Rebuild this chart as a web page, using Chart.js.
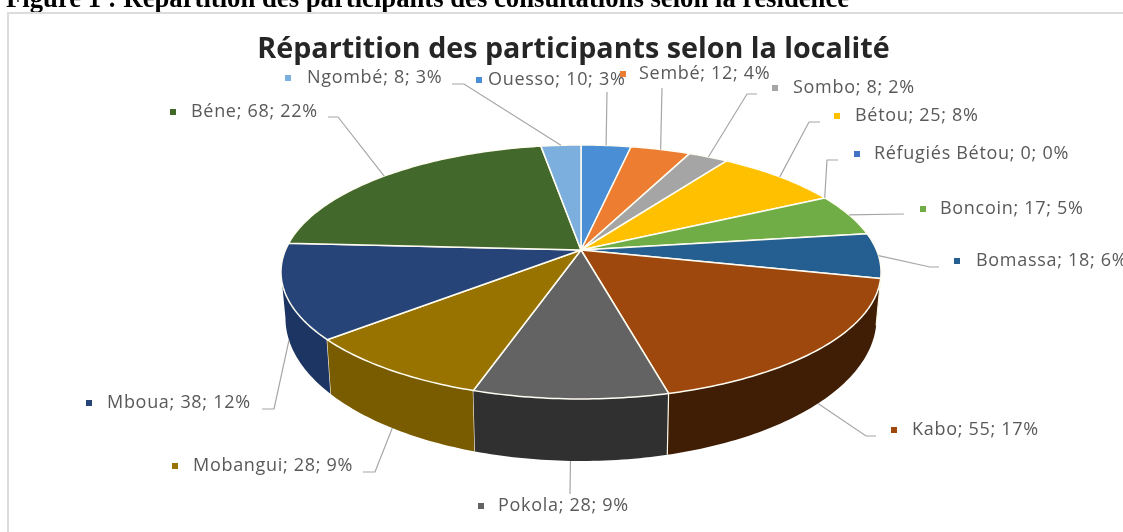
<!DOCTYPE html>
<html lang="fr">
<head>
<meta charset="utf-8">
<title>Répartition des participants</title>
<script src="https://cdn.jsdelivr.net/npm/chart.js@4"></script>
<style>
    html, body { margin: 0; padding: 0; background: #fff; overflow: hidden; }
    #page { position: relative; width: 1123px; height: 532px; overflow: hidden; }
    #caption {
        position: absolute; left: 6px; top: -17px; white-space: nowrap;
        font: bold 26.7px "Liberation Serif", serif; color: #000; filter: blur(0.4px);
    }
    #frame {
        position: absolute; left: 7px; top: 12px; width: 1116px; height: 520px;
        border-left: 2px solid #dcdcdc; border-top: 2px solid #dcdcdc; box-sizing: border-box;
    }
    canvas { position: absolute; left: 0; top: 0; filter: blur(0.6px); }
</style>
</head>
<body>
<div id="page">
    <div id="caption">Figure 1 : Répartition des participants des consultations selon la résidence</div>
    <div id="frame"></div>
    <canvas id="pie" width="1123" height="532"></canvas>
</div>
<script>
// Données
const localites = ["Ouesso", "Sembé", "Sombo", "Bétou", "Réfugiés Bétou", "Boncoin", "Bomassa", "Kabo", "Pokola", "Mobangui", "Mboua", "Béne", "Ngombé"];
const participants = [10, 12, 8, 25, 0, 17, 18, 55, 28, 28, 38, 68, 8];
const pourcentages = [3, 4, 2, 8, 0, 5, 6, 17, 9, 9, 12, 22, 3];

const couleurs = ["#4a8fd6", "#ed7d31", "#a5a5a5", "#ffc000", "#4472c4", "#70ad47", "#255e91", "#9e480e", "#636363", "#997300", "#264478", "#43682b", "#7cafdd"];
const couleursCote = ["#3a70a8", "#b05c24", "#7a7a7a", "#bd8e00", "#32548f", "#527f34", "#1b456b", "#3f1e05", "#303030", "#795b00", "#1d3563", "#31491f", "#5c82a4"];

// Emplacement des étiquettes : carré, texte, y, puis coude du trait de rappel
const etiquettes = [
    { m: 479, t: 488, y: 80, coude: [[607, 92]] },
    { m: 623, t: 639, y: 74, coude: [[662, 88]] },
    { m: 775, t: 793, y: 88, coude: [[757, 94], [747, 94]] },
    { m: 837, t: 855, y: 116, coude: [[820, 122], [809, 122]] },
    { m: 857, t: 874, y: 154, coude: [[838, 160], [827, 160]] },
    { m: 923, t: 940, y: 209, coude: [[904, 214]] },
    { m: 957, t: 976, y: 261, coude: [[939, 267], [930, 267]] },
    { m: 894, t: 912, y: 430, coude: [[876, 436], [866, 436]] },
    { m: 481, t: 498, y: 506, coude: [[570, 494]] },
    { m: 175, t: 193, y: 466, coude: [[363, 472], [375, 472]] },
    { m: 89, t: 107, y: 403, coude: [[262, 409], [274, 409]] },
    { m: 173, t: 191, y: 112, coude: [[328, 117], [338, 117]] },
    { m: 288, t: 307, y: 78, coude: [[452, 84], [464, 84]] }
];

// Projection du disque en perspective
const cx = 581, cy = 250, ax = 295.5, by = 123.2, k = 0.173;
const coteDebut = 100 * Math.PI / 180, coteFin = 260 * Math.PI / 180;

function dessus(theta) {
    const u = Math.sin(theta), v = -Math.cos(theta);
    const d = 1 - k * v;
    return [ax * u / d, by * v / d];
}
function haut(theta) {
    const p = dessus(theta);
    return [cx + p[0], cy + p[1]];
}
function bas(theta) {
    const p = dessus(theta);
    return [cx + p[0] * 0.985, cy + p[1] * 1.125 + 43.4];
}
function bord(ctx, a, b, f) {
    const n = Math.max(2, Math.ceil(Math.abs(b - a) * 60));
    for (let i = 0; i <= n; i++) {
        const p = f(a + (b - a) * i / n);
        ctx.lineTo(p[0], p[1]);
    }
}

const pie3d = {
    id: "pie3d",
    // on remplace le dessin à plat par le disque en perspective, à partir des arcs calculés par Chart.js
    beforeDatasetDraw(chart) {
        const ctx = chart.ctx;
        const arcs = chart.getDatasetMeta(0).data;
        const angle = (x) => x + Math.PI / 2;

        ctx.save();
        ctx.lineJoin = "round";

        // côté visible, de l'extérieur vers l'avant
        const ordre = arcs.map((a, i) => i).sort((i, j) => {
            const mi = Math.abs(angle((arcs[i].startAngle + arcs[i].endAngle) / 2) - Math.PI);
            const mj = Math.abs(angle((arcs[j].startAngle + arcs[j].endAngle) / 2) - Math.PI);
            return mj - mi;
        });
        ordre.forEach((i) => {
            const a = Math.max(angle(arcs[i].startAngle), coteDebut);
            const b = Math.min(angle(arcs[i].endAngle), coteFin);
            if (b <= a) return;
            ctx.beginPath();
            bord(ctx, a, b, haut);
            bord(ctx, b, a, bas);
            ctx.closePath();
            ctx.fillStyle = couleursCote[i];
            ctx.fill();
            ctx.strokeStyle = "#fff8e8";
            ctx.lineWidth = 1.2;
            const p1 = haut(a), p2 = bas(a);
            ctx.beginPath();
            ctx.moveTo(p1[0], p1[1]);
            ctx.lineTo(p2[0], p2[1]);
            ctx.stroke();
        });

        // dessus du disque
        arcs.forEach((el, i) => {
            const a = angle(el.startAngle), b = angle(el.endAngle);
            if (b - a < 1e-6) return;
            ctx.beginPath();
            ctx.moveTo(cx, cy);
            bord(ctx, a, b, haut);
            ctx.closePath();
            ctx.fillStyle = couleurs[i];
            ctx.fill();
            ctx.strokeStyle = "#fffdf2";
            ctx.lineWidth = 1.5;
            ctx.stroke();
        });
        ctx.restore();
        return false;
    },
    afterDraw(chart) {
        const ctx = chart.ctx;
        const arcs = chart.getDatasetMeta(0).data;
        ctx.save();

        // traits de rappel
        ctx.strokeStyle = "#a6a6a6";
        ctx.lineWidth = 1.2;
        arcs.forEach((el, i) => {
            const t = (el.startAngle + el.endAngle) / 2 + Math.PI / 2;
            const fin = (t > coteDebut && t < coteFin) ? bas(t) : haut(t);
            ctx.beginPath();
            etiquettes[i].coude.forEach((p, n) => {
                if (n === 0) ctx.moveTo(p[0], p[1]); else ctx.lineTo(p[0], p[1]);
            });
            ctx.lineTo(fin[0], fin[1]);
            ctx.stroke();
        });

        // étiquettes
        ctx.font = "18px 'Open Sans'";
        ctx.letterSpacing = "0.7px";
        ctx.textBaseline = "middle";
        ctx.textAlign = "left";
        localites.forEach((nom, i) => {
            const e = etiquettes[i];
            ctx.fillStyle = "#595959";
            ctx.fillText(`${nom}; ${participants[i]}; ${pourcentages[i]}%`, e.t, e.y);
            ctx.fillStyle = couleurs[i];
            ctx.fillRect(e.m - 3, e.y - 3, 6, 6);
        });
        ctx.restore();
    }
};

new Chart(document.getElementById("pie"), {
    type: "pie",
    data: {
        labels: localites,
        datasets: [{ data: participants, backgroundColor: couleurs, borderWidth: 0 }]
    },
    options: {
        responsive: false,
        animation: false,
        rotation: 0,
        layout: { padding: { left: 24 } },
        plugins: {
            legend: { display: false },
            tooltip: { enabled: false },
            title: {
                display: true,
                fullSize: false,
                text: "Répartition des participants selon la localité",
                color: "#262626",
                font: { family: "'Open Sans'", size: 28.7, weight: "bold" },
                padding: { top: 33, bottom: 0 }
            }
        }
    },
    plugins: [pie3d]
});
</script>
</body>
</html>
